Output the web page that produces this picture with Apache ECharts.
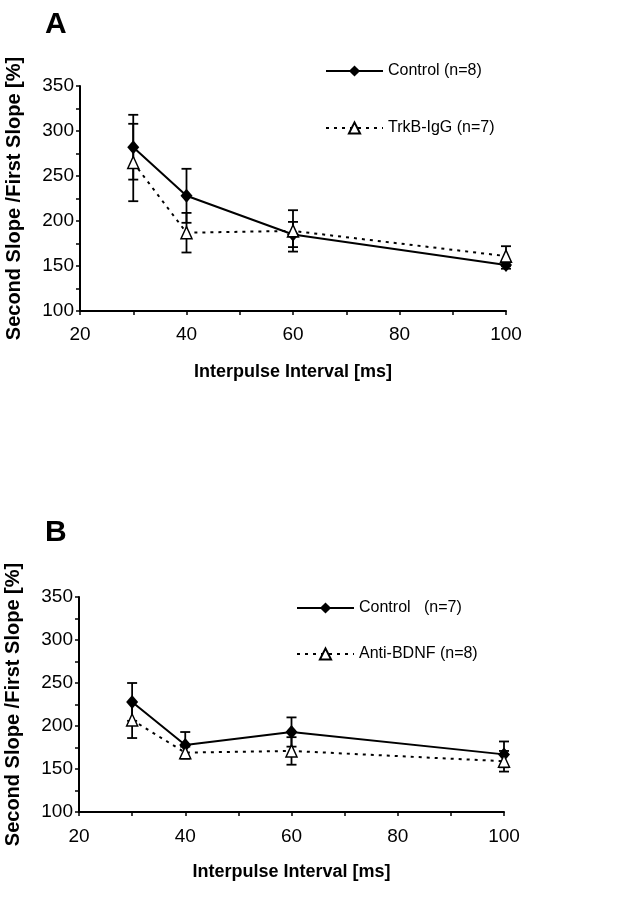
<!DOCTYPE html>
<html><head><meta charset="utf-8">
<script src="https://cdn.jsdelivr.net/npm/echarts@6/dist/echarts.min.js"></script>
<style>html,body{margin:0;padding:0;background:#fff}#c{width:637px;height:899px}</style>
</head><body><div id="c"></div>
<script>
// Panel A
const intervalsA = [30, 40, 60, 100];
const controlA = [282, 228, 185, 151];
const controlAErr = [36, 30, 14, 4];
const trkbA = [265, 187, 189, 161];
const trkbAErr = [43, 22, 23, 11];
// Panel B
const intervalsB = [30, 40, 60, 100];
const controlB = [228, 178, 193, 167];
const controlBErr = [22, 15, 17, 15];
const antiB = [207, 169, 171, 159];
const antiBErr = [21, 7, 16, 12];

const xTicks = [20, 40, 60, 80, 100];
const yTicks = [100, 150, 200, 250, 300, 350];

const FONT = '"Liberation Sans", Arial, sans-serif';
const chart = echarts.init(document.getElementById('c'), null, {renderer: 'canvas'});

function pts(xs, ys) { return xs.map((x, i) => [x, ys[i]]); }
function errData(xs, ys, es) { return xs.map((x, i) => [x, ys[i] - es[i], ys[i] + es[i]]); }

function errSeries(idx, data) {
  return {
    type: 'custom', xAxisIndex: idx, yAxisIndex: idx, silent: true, z: 1,
    data: data,
    encode: {x: 0, y: [1, 2]},
    renderItem: function (params, api) {
      const x = api.value(0);
      const lo = api.coord([x, api.value(1)]);
      const hi = api.coord([x, api.value(2)]);
      const w = 5;
      const st = {stroke: '#000', lineWidth: 1.8};
      return {type: 'group', children: [
        {type: 'line', shape: {x1: lo[0], y1: lo[1], x2: hi[0], y2: hi[1]}, style: st},
        {type: 'line', shape: {x1: lo[0] - w, y1: lo[1], x2: lo[0] + w, y2: lo[1]}, style: st},
        {type: 'line', shape: {x1: hi[0] - w, y1: hi[1], x2: hi[0] + w, y2: hi[1]}, style: st}
      ]};
    }
  };
}

function xAxis(idx, margin, gap) {
  return {
    type: 'value', gridIndex: idx, min: xTicks[0], max: xTicks[xTicks.length - 1], interval: 20,
    name: 'Interpulse Interval [ms]', nameLocation: 'middle', nameGap: gap,
    nameTextStyle: {fontFamily: FONT, fontSize: 18, fontWeight: 'bold', color: '#000'},
    axisLine: {lineStyle: {color: '#000', width: 2}},
    axisTick: {show: true, length: 4, lineStyle: {color: '#000', width: 1.5}},
    minorTick: {show: true, splitNumber: 2, length: 4, lineStyle: {color: '#000', width: 1.5}},
    axisLabel: {fontFamily: FONT, fontSize: 19, color: '#000', margin: margin},
    splitLine: {show: false}
  };
}
function yAxis(idx) {
  return {
    type: 'value', gridIndex: idx, min: yTicks[0], max: yTicks[yTicks.length - 1], interval: 50,
    name: 'Second Slope /First Slope [%]', nameLocation: 'middle', nameGap: 56,
    nameTextStyle: {fontFamily: FONT, fontSize: 20, fontWeight: 'bold', color: '#000'},
    axisLine: {lineStyle: {color: '#000', width: 2}},
    axisTick: {show: true, length: 4, lineStyle: {color: '#000', width: 1.5}},
    minorTick: {show: true, splitNumber: 2, length: 4, lineStyle: {color: '#000', width: 1.5}},
    axisLabel: {fontFamily: FONT, fontSize: 19, color: '#000', margin: 6},
    splitLine: {show: false}
  };
}

const solid = {color: '#000', width: 2, type: 'solid'};
const dotted = {color: '#000', width: 2, type: [3, 5]};
const legendText = {fontFamily: FONT, fontSize: 16, color: '#000'};

chart.setOption({
  backgroundColor: '#fff',
  animation: false,
  graphic: [
    {type: 'text', left: 45, top: 10, style: {text: 'A', font: 'bold 30px ' + FONT, fill: '#000'}},
    {type: 'text', left: 45, top: 518, style: {text: 'B', font: 'bold 30px ' + FONT, fill: '#000'}}
  ],
  grid: [
    {left: 80, top: 86, width: 426, height: 225, outerBoundsMode: 'none', containLabel: false},
    {left: 79, top: 597, width: 425, height: 215, outerBoundsMode: 'none', containLabel: false}
  ],
  xAxis: [xAxis(0, 14, 52), xAxis(1, 15, 51)],
  yAxis: [yAxis(0), yAxis(1)],
  legend: [
    {data: ['Control (n=8)', 'TrkB-IgG (n=7)'], orient: 'vertical', left: 320, top: 58,
     itemWidth: 57, itemHeight: 14, itemGap: 41,
     textStyle: legendText},
    {data: ['Control   (n=7)', 'Anti-BDNF (n=8)'], orient: 'vertical', left: 291, top: 595,
     itemWidth: 57, itemHeight: 14, itemGap: 30,
     textStyle: legendText}
  ],
  series: [
    errSeries(0, errData(intervalsA, controlA, controlAErr)),
    errSeries(0, errData(intervalsA, trkbA, trkbAErr)),
    {name: 'Control (n=8)', type: 'line', xAxisIndex: 0, yAxisIndex: 0, data: pts(intervalsA, controlA),
     symbol: 'diamond', symbolSize: [12, 14], itemStyle: {color: '#000'}, lineStyle: solid, z: 3},
    {name: 'TrkB-IgG (n=7)', type: 'line', xAxisIndex: 0, yAxisIndex: 0, data: pts(intervalsA, trkbA),
     symbol: 'triangle', symbolSize: [11, 12], itemStyle: {color: '#fff', borderColor: '#000', borderWidth: 1.5},
     lineStyle: dotted, z: 4},
    errSeries(1, errData(intervalsB, controlB, controlBErr)),
    errSeries(1, errData(intervalsB, antiB, antiBErr)),
    {name: 'Control   (n=7)', type: 'line', xAxisIndex: 1, yAxisIndex: 1, data: pts(intervalsB, controlB),
     symbol: 'diamond', symbolSize: [12, 14], itemStyle: {color: '#000'}, lineStyle: solid, z: 3},
    {name: 'Anti-BDNF (n=8)', type: 'line', xAxisIndex: 1, yAxisIndex: 1, data: pts(intervalsB, antiB),
     symbol: 'triangle', symbolSize: [11, 12], itemStyle: {color: '#fff', borderColor: '#000', borderWidth: 1.5},
     lineStyle: dotted, z: 4}
  ]
});
</script></body></html>
